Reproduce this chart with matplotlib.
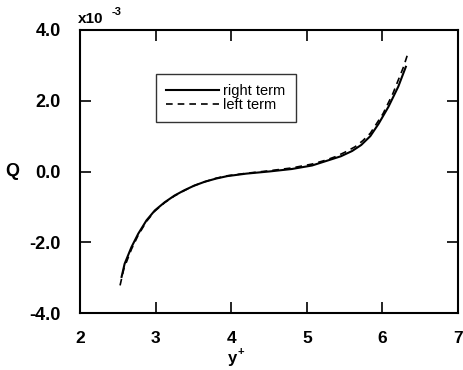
import matplotlib
matplotlib.use("Agg")
import matplotlib.pyplot as plt

# data (Q in units of 1e-3)
right_x = [2.55, 2.59, 2.68, 2.77, 2.88, 2.99, 3.12, 3.25, 3.38, 3.51, 3.65, 3.8, 3.95, 4.2, 4.5, 4.8,
           5.07, 5.29, 5.45, 5.6, 5.72, 5.84, 5.95, 6.08, 6.21, 6.31]
right_y = [-2.98, -2.61, -2.14, -1.76, -1.38, -1.10, -0.87, -0.68, -0.53, -0.40, -0.29, -0.20, -0.13,
           -0.06, 0.0, 0.07, 0.17, 0.32, 0.43, 0.58, 0.75, 1.0, 1.35, 1.83, 2.40, 2.96]
left_x = [2.53, 2.58, 2.68, 2.77, 2.88, 2.99, 3.12, 3.25, 3.38, 3.51, 3.65, 3.8, 3.95, 4.2, 4.5, 4.8,
          5.07, 5.25, 5.38, 5.5, 5.64, 5.74, 5.84, 6.01, 6.14, 6.28, 6.33]
left_y = [-3.22, -2.75, -2.2, -1.8, -1.41, -1.12, -0.88, -0.69, -0.54, -0.40, -0.29, -0.19, -0.12,
          -0.05, 0.02, 0.10, 0.21, 0.32, 0.42, 0.54, 0.70, 0.87, 1.08, 1.64, 2.21, 2.96, 3.29]
xticks = [2, 3, 4, 5, 6, 7]
yticks = [-4.0, -2.0, 0.0, 2.0, 4.0]
ytick_labels = ["-4.0", "-2.0", "0.0", "2.0", "4.0"]

plt.rcParams['font.family'] = ['Liberation Sans', 'DejaVu Sans']

fig = plt.figure(figsize=(4.64, 3.70), dpi=100)
ax = fig.add_axes([80/464, 1 - 313/370, 378/464, 283/370])

ax.plot(right_x, right_y, color='black', lw=1.5, ls='-', label='right term')
ax.plot(left_x, left_y, color='black', lw=1.2, ls=(0, (4, 3)), label='left term')

ax.set_xlim(2, 7)
ax.set_ylim(-4, 4)
ax.set_xticks(xticks)
ax.set_xticklabels([str(t) for t in xticks], fontweight='bold', fontsize=12.5)
ax.set_yticks(yticks)
ax.set_yticklabels(ytick_labels, fontweight='bold', fontsize=13)
ax.tick_params(direction='in', length=8, width=1.2, top=True, right=True)
ax.tick_params(axis='x', pad=13)
ax.tick_params(axis='y', pad=14)
for s in ax.spines.values():
    s.set_linewidth(1.5)

fig.text(232/464, 1 - 359/370, 'y', fontweight='bold', fontsize=12, ha='center', va='center')
fig.text(238/464, 1 - 352/370, '+', fontweight='bold', fontsize=8, ha='left', va='center')
ax.set_ylabel('Q', fontweight='bold', fontsize=13, rotation=0, labelpad=12, va='center')

fig.text(78/464, 1 - 19/370, 'x10', fontweight='bold', fontsize=11, ha='left', va='center')
fig.text(112/464, 1 - 12/370, '-3', fontweight='bold', fontsize=8, ha='left', va='center')

leg = ax.legend(loc='upper left', bbox_to_anchor=((156-80)/378, (313-74)/283),
                frameon=True, fancybox=False, edgecolor='black', fontsize=10.5,
                handlelength=3.6, borderpad=0.7, labelspacing=0.0, handletextpad=0.3,
                borderaxespad=0)
leg.get_frame().set_linewidth(1.0)

fig.savefig('out.png', dpi=100)
